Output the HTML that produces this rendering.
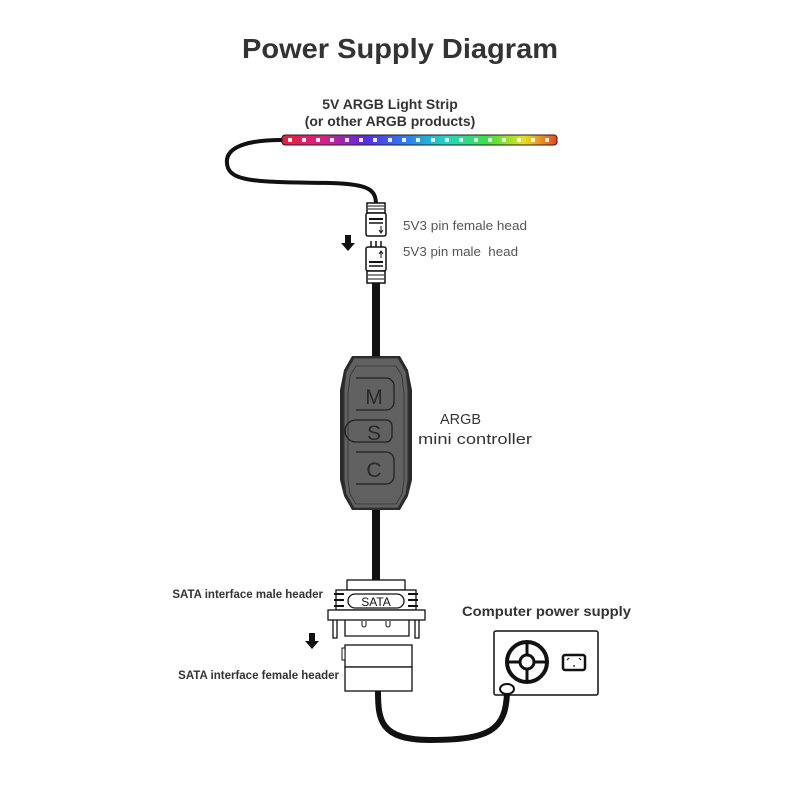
<!DOCTYPE html>
<html><head><meta charset="utf-8"><style>body{margin:0;background:#fff}svg{display:block}</style></head><body>
<svg width="800" height="800" viewBox="0 0 800 800" xmlns="http://www.w3.org/2000/svg" font-family="Liberation Sans, DejaVu Sans, sans-serif">
<defs>
<linearGradient id="rb" x1="0" x2="1">
<stop offset="0" stop-color="#e8203a"/><stop offset="0.15" stop-color="#d8208a"/><stop offset="0.3" stop-color="#5a2ae0"/><stop offset="0.45" stop-color="#2a7ff0"/><stop offset="0.6" stop-color="#20d8c0"/><stop offset="0.75" stop-color="#40e040"/><stop offset="0.88" stop-color="#e8e020"/><stop offset="1" stop-color="#f04020"/>
</linearGradient>
</defs>
<text x="400" y="58" text-anchor="middle" font-size="28" font-weight="bold" fill="#333" textLength="316" lengthAdjust="spacingAndGlyphs">Power Supply Diagram</text>
<text x="390" y="109" text-anchor="middle" font-size="14" font-weight="bold" fill="#333">5V ARGB Light Strip</text>
<text x="390" y="126" text-anchor="middle" font-size="14" font-weight="bold" fill="#333">(or other ARGB products)</text>
<rect x="282" y="135" width="275" height="10" rx="3" fill="url(#rb)" stroke="#222" stroke-width="1"/>
<g fill="#fff" opacity="0.9">
<rect x="288" y="138" width="4" height="4"/><rect x="302" y="138" width="4" height="4"/><rect x="316" y="138" width="4" height="4"/><rect x="330" y="138" width="4" height="4"/><rect x="345" y="138" width="4" height="4"/><rect x="359" y="138" width="4" height="4"/><rect x="373" y="138" width="4" height="4"/><rect x="388" y="138" width="4" height="4"/><rect x="402" y="138" width="4" height="4"/><rect x="416" y="138" width="4" height="4"/><rect x="431" y="138" width="4" height="4"/><rect x="445" y="138" width="4" height="4"/><rect x="459" y="138" width="4" height="4"/><rect x="474" y="138" width="4" height="4"/><rect x="488" y="138" width="4" height="4"/><rect x="502" y="138" width="4" height="4"/><rect x="517" y="138" width="4" height="4"/><rect x="531" y="138" width="4" height="4"/><rect x="545" y="138" width="4" height="4"/>
</g>
<path d="M282 140 C240 140 222 150 228 168 C234 182 260 182 330 183 C370 184 376 190 376 205" fill="none" stroke="#111" stroke-width="4"/>
<rect x="367" y="203" width="18" height="10" fill="#fff" stroke="#111" stroke-width="1.5"/>
<line x1="368" y1="206" x2="384" y2="206" stroke="#111"/><line x1="368" y1="209" x2="384" y2="209" stroke="#111"/>
<rect x="366" y="213" width="20" height="23" rx="2" fill="#fff" stroke="#111" stroke-width="1.5"/>
<line x1="369" y1="219" x2="383" y2="219" stroke="#111" stroke-width="2"/><line x1="369" y1="223" x2="383" y2="223" stroke="#111" stroke-width="1.5"/>
<path d="M381 226 v6 M379 230 l2 3 l2 -3" stroke="#111" fill="none"/>
<path d="M345 235 h6 v8 h4 l-7 8 l-7 -8 h4 z" fill="#111"/>
<line x1="371" y1="241" x2="371" y2="247" stroke="#111" stroke-width="1.5"/><line x1="376" y1="241" x2="376" y2="247" stroke="#111" stroke-width="1.5"/><line x1="381" y1="241" x2="381" y2="247" stroke="#111" stroke-width="1.5"/>
<rect x="366" y="247" width="20" height="24" rx="2" fill="#fff" stroke="#111" stroke-width="1.5"/>
<path d="M381 258 v-6 M379 254 l2 -3 l2 3" stroke="#111" fill="none"/>
<line x1="369" y1="262" x2="383" y2="262" stroke="#111" stroke-width="2"/><line x1="369" y1="266" x2="383" y2="266" stroke="#111" stroke-width="1.5"/>
<rect x="367" y="271" width="18" height="12" fill="#fff" stroke="#111" stroke-width="1.5"/>
<line x1="368" y1="275" x2="384" y2="275" stroke="#111"/><line x1="368" y1="279" x2="384" y2="279" stroke="#111"/>
<text x="403" y="230" font-size="13" fill="#555" textLength="124" lengthAdjust="spacingAndGlyphs">5V3 pin female head</text>
<text x="403" y="256" font-size="13" fill="#555" xml:space="preserve" textLength="115" lengthAdjust="spacingAndGlyphs">5V3 pin male  head</text>
<rect x="372" y="283" width="8" height="75" fill="#111"/>
<rect x="372" y="505" width="8" height="77" fill="#111"/>
<path d="M352 356 h48 l8 14 l4 20 v90 l-4 16 l-8 14 h-48 l-8 -14 l-4 -16 v-90 l4 -20 z" fill="#2a2a2a"/>
<path d="M354 358 h44 l8 14 l2 18 v90 l-2 14 l-8 14 h-44 l-8 -14 l-2 -14 v-90 l2 -18 z" fill="#616161" stroke="#333"/>
<path d="M356 366 h40 l6 10 l2 18 v86 l-2 14 l-6 10 h-40 l-6 -10 l-2 -14 v-86 l2 -18 z" fill="none" stroke="#333" stroke-width="0.8"/>
<path d="M356 378 h30 a8 8 0 0 1 8 8 v16 a8 8 0 0 1 -8 8 h-30" fill="none" stroke="#222" stroke-width="1.3"/>
<path d="M356 420 h30 a6 6 0 0 1 6 6 v10 a6 6 0 0 1 -6 6 h-30 a4 4 0 0 1 0 -22" fill="none" stroke="#222" stroke-width="1.3"/>
<path d="M356 452 h30 a8 8 0 0 1 8 8 v16 a8 8 0 0 1 -8 8 h-30" fill="none" stroke="#222" stroke-width="1.3"/>
<text x="374" y="404" text-anchor="middle" font-size="21" fill="#2a2a2a">M</text>
<text x="374" y="440" text-anchor="middle" font-size="21" fill="#2a2a2a">S</text>
<text x="374" y="477" text-anchor="middle" font-size="21" fill="#2a2a2a">C</text>
<text x="440" y="424" font-size="15" fill="#333" textLength="41" lengthAdjust="spacingAndGlyphs">ARGB</text>
<text x="418" y="444" font-size="15" fill="#333" textLength="114" lengthAdjust="spacingAndGlyphs">mini controller</text>
<rect x="347" y="580" width="58" height="10" fill="#fff" stroke="#111" stroke-width="1.3"/>
<rect x="336" y="590" width="80" height="20" fill="#fff" stroke="#111" stroke-width="1.3"/>
<rect x="348" y="594" width="56" height="14" rx="7" fill="#fff" stroke="#111" stroke-width="1.3"/>
<text x="376" y="606" text-anchor="middle" font-size="12" fill="#111">SATA</text>
<line x1="334" y1="594" x2="344" y2="594" stroke="#111" stroke-width="2"/><line x1="334" y1="600" x2="344" y2="600" stroke="#111" stroke-width="2"/><line x1="334" y1="606" x2="344" y2="606" stroke="#111" stroke-width="2"/>
<line x1="408" y1="594" x2="418" y2="594" stroke="#111" stroke-width="2"/><line x1="408" y1="600" x2="418" y2="600" stroke="#111" stroke-width="2"/><line x1="408" y1="606" x2="418" y2="606" stroke="#111" stroke-width="2"/>
<rect x="328" y="610" width="97" height="10" fill="#fff" stroke="#111" stroke-width="1.3"/>
<path d="M333 620 v18 h4 v-18 M415 620 v18 h4 v-18 M345 620 v16 h64 v-16" fill="none" stroke="#111" stroke-width="1.3"/>
<path d="M362 621 v4 a2 2 0 0 0 4 0 v-4 M386 621 v4 a2 2 0 0 0 4 0 v-4" fill="none" stroke="#111"/>
<rect x="345" y="645" width="67" height="22" fill="#fff" stroke="#111" stroke-width="1.3"/>
<rect x="342" y="648" width="3" height="12" fill="#fff" stroke="#111"/>
<rect x="345" y="667" width="67" height="24" fill="#fff" stroke="#111" stroke-width="1.3"/>
<path d="M309 633 h6 v8 h4 l-7 8 l-7 -8 h4 z" fill="#111"/>
<text x="323" y="598" text-anchor="end" font-size="11.5" font-weight="bold" fill="#333">SATA interface male header</text>
<text x="339" y="679" text-anchor="end" font-size="11.5" font-weight="bold" fill="#333">SATA interface female header</text>
<path d="M378 691 C378 720 380 740 430 740 C490 740 506 730 507 692" fill="none" stroke="#111" stroke-width="6"/>
<text x="462" y="616" font-size="14" font-weight="bold" fill="#333" textLength="169" lengthAdjust="spacingAndGlyphs">Computer power supply</text>
<rect x="494" y="631" width="104" height="64" rx="2" fill="#fff" stroke="#111" stroke-width="1.5"/>
<circle cx="527" cy="662" r="20" fill="#fff" stroke="#111" stroke-width="4"/>
<line x1="527" y1="642" x2="527" y2="682" stroke="#111" stroke-width="3"/><line x1="507" y1="662" x2="547" y2="662" stroke="#111" stroke-width="3"/>
<circle cx="527" cy="662" r="7" fill="#fff" stroke="#111" stroke-width="3"/>
<rect x="563" y="655" width="22" height="15" rx="2" fill="#fff" stroke="#111" stroke-width="2.5"/>
<path d="M567 660 l2 -2 M581 660 l-2 -2 M574 665 v2" stroke="#111" stroke-width="1.2"/>
<ellipse cx="507" cy="689" rx="7" ry="5" fill="#fff" stroke="#111" stroke-width="2"/>
</svg>
</body></html>
